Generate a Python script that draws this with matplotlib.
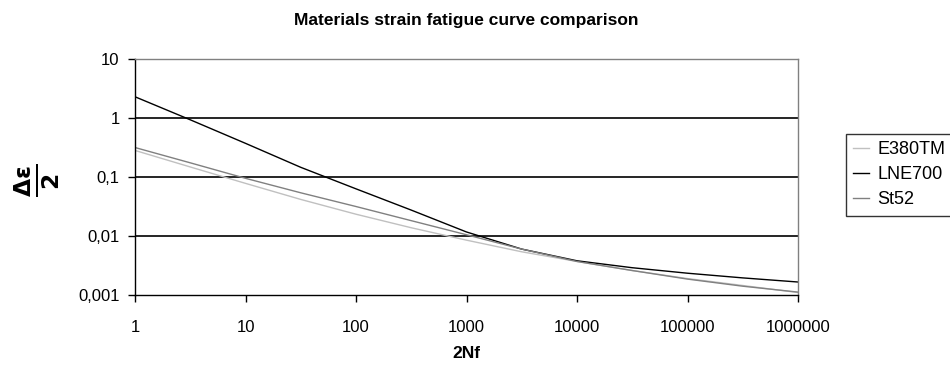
import matplotlib.pyplot as plt
import matplotlib.ticker as mticker

plt.rcParams['font.family'] = ['Liberation Sans', 'DejaVu Sans']

# 2Nf (reversals) and strain amplitude
cycles = [1, 3.16, 10, 31.6, 100, 316, 1000, 3160, 10000, 31600, 100000, 316000, 1000000]
e380tm = [0.282, 0.148, 0.078, 0.0417, 0.0234, 0.0138, 0.0085, 0.0054, 0.0037, 0.0026, 0.0019, 0.00145, 0.0011]
lne700 = [2.29, 0.933, 0.372, 0.146, 0.063, 0.0275, 0.0117, 0.0060, 0.0038, 0.0029, 0.00234, 0.00195, 0.00166]
st52 = [0.316, 0.174, 0.095, 0.054, 0.0316, 0.0182, 0.0105, 0.0060, 0.0037, 0.0026, 0.00186, 0.00141, 0.00112]

names = ["E380TM", "LNE700", "St52"]
colors = ["#c0c0c0", "#000000", "#808080"]

fig = plt.figure(figsize=(9.5, 3.67), dpi=100)
ax = fig.add_axes([135/950, 1-295/367, (798-135)/950, (295-59)/367])

for y, name, c in zip([e380tm, lne700, st52], names, colors):
    ax.plot(cycles, y, color=c, linewidth=1.0, label=name)

ax.set_xscale("log")
ax.set_yscale("log")
ax.set_xlim(1, 1e6)
ax.set_ylim(0.001, 10)

xt = [1, 10, 100, 1000, 10000, 100000, 1000000]
yt = [0.001, 0.01, 0.1, 1, 10]
ytl = ["0,001", "0,01", "0,1", "1", "10"]
ax.set_xticks(xt)
ax.set_xticklabels([str(v) for v in xt])
ax.set_yticks(yt)
ax.set_yticklabels(ytl)
ax.xaxis.set_minor_locator(mticker.NullLocator())
ax.yaxis.set_minor_locator(mticker.NullLocator())
ax.tick_params(direction="out", length=5, width=1, color="black", labelsize=12, pad=6)
ax.tick_params(axis="x", pad=13)

for v in yt[1:-1]:
    ax.axhline(v, color="black", linewidth=1.2, zorder=0)

ax.spines["left"].set_color("black")
ax.spines["bottom"].set_color("black")
ax.spines["top"].set_color("#808080")
ax.spines["right"].set_color("#808080")
for s in ax.spines.values():
    s.set_linewidth(1.0)

fig.text(466/950, 1-20/367, "Materials strain fatigue curve comparison",
         ha="center", va="center", fontsize=12.5, fontweight="bold")
fig.text(466/950, 1-353/367, "2Nf", ha="center", va="center", fontsize=12.5, fontweight="bold")
fig.text(37/950, 1-180/367, r"$\mathbf{\frac{\Delta\varepsilon}{2}}$", ha="center", va="center",
         rotation=90, fontsize=24)

leg = fig.legend(loc="upper left", bbox_to_anchor=(846/950, 1-134/367), frameon=True,
                 fancybox=False, edgecolor="black", fontsize=13, handlelength=0.9,
                 handletextpad=0.45, borderpad=0.4, labelspacing=0.45, borderaxespad=0)
leg.get_frame().set_linewidth(1.0)

fig.savefig("out.png", dpi=100)
